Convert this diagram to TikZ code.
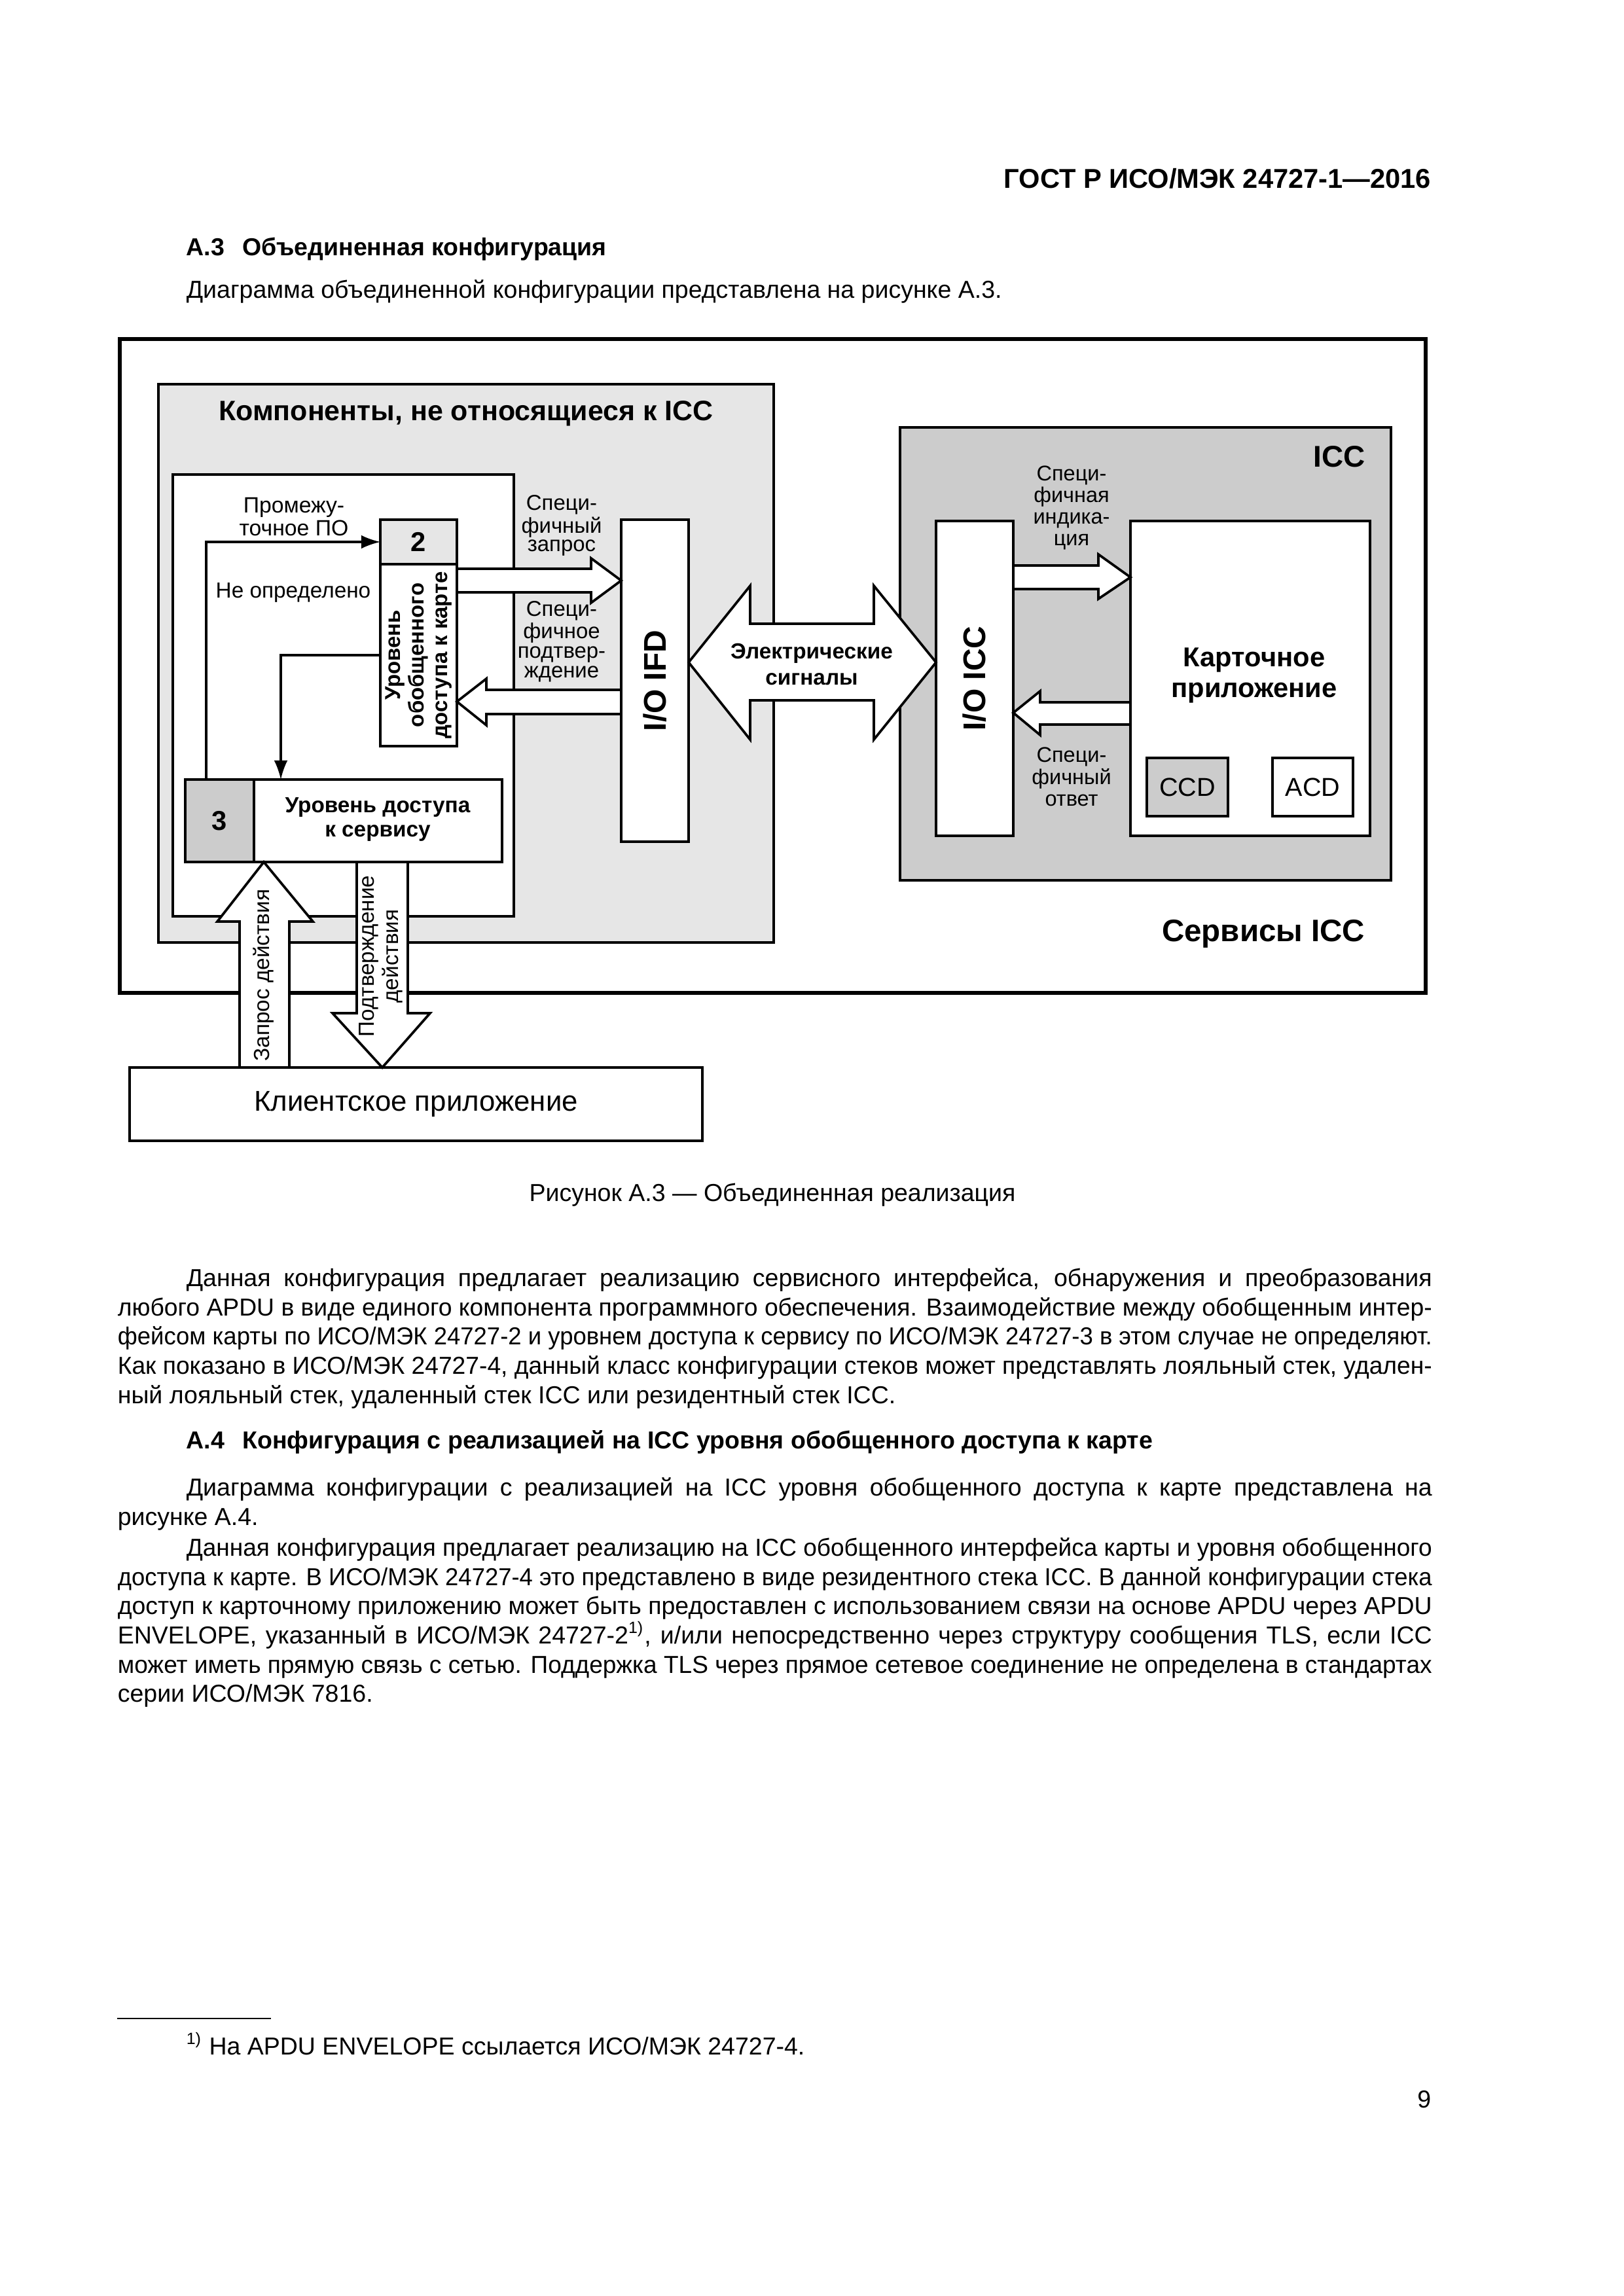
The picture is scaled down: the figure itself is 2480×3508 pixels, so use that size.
\documentclass[tikz,border=0pt]{standalone}
\usepackage{fontspec}
\setmainfont{Liberation Sans}
\usepackage{graphicx}
\usetikzlibrary{arrows.meta,fit}
\definecolor{lgray}{HTML}{E6E6E6}
\definecolor{mgray}{HTML}{CCCCCC}
\newcommand\fsz[2]{\fontsize{#1}{#2}\selectfont}
\newlength\jlw
\newcommand\jline[2]{\settowidth\jlw{#2}\ifdim\jlw>#1\relax\resizebox{#1}{\height}{#2}\else\makebox[#1][s]{#2}\fi}
\begin{document}
\begin{tikzpicture}[x=0.24pt,y=-0.24pt,font=\fsz{9}{10.7},
  box/.style={draw,line width=1.05pt,inner sep=0pt,outer sep=0pt},
  blk/.style={draw,fill=white,line width=0.9pt,line join=miter},
  conn/.style={line width=0.75pt,-{Latex[length=7pt,width=5pt]}},
  lbl/.style={inner sep=0pt,align=center},
  txt/.style={inner sep=0pt,anchor=base west},
  small/.style={lbl,font=\fsz{7.9}{6.6}},
]
\fill[white] (0,0) rectangle (2480,3508);
\useasboundingbox (0,0) rectangle (2480,3508);

% ---------- page text (top) ----------
\node[anchor=base east,inner sep=0pt,font=\fsz{10}{12}\bfseries] (gost) at (2187,288) {ГОСТ Р ИСО/МЭК 24727-1—2016};
\node[txt,font=\fsz{9}{10.7}\bfseries] (h3) at (284,391) {А.3\hspace{0.45em} Объединенная конфигурация};
\node[txt] (t0) at (284,456) {Диаграмма объединенной конфигурации представлена на рисунке А.3.};

% ---------- diagram boxes ----------
\node[box,line width=1.35pt,fit={(183,518)(2178,1517)}] (svc) {};
\node[box,fill=lgray,fit={(242,587)(1182,1440)}] (nonicc) {};
\node[box,fill=white,fit={(264,725)(785,1400)}] (mid) {};
\node[box,fill=lgray,fit={(581,794)(698,862)}] (n2num) {};
\node[box,fill=white,fit={(581,862)(698,1140)}] (n2) {};
\node[box,fill=mgray,fit={(283,1191)(388,1317)}] (n3num) {};
\node[box,fill=white,fit={(388,1191)(767,1317)}] (n3) {};
\node[box,fill=white,fit={(949,794)(1052,1286)}] (ifd) {};
\node[box,fill=mgray,fit={(1375,653)(2125,1345)}] (icc) {};
\node[box,fill=white,fit={(1430,796)(1548,1277)}] (ioicc) {};
\node[box,fill=white,fit={(1727,796)(2093,1277)}] (app) {};
\node[box,fill=mgray,fit={(1752,1158)(1876,1247)}] (ccd) {};
\node[box,fill=white,fit={(1944,1158)(2067,1247)}] (acd) {};
\node[box,fill=white,fit={(198,1631)(1073,1743)}] (client) {};

% ---------- thin connectors ----------
\coordinate (c1) at (315,1191);
\coordinate (c2) at (429,1191);
\draw[conn] (c1) |- (n2num.west);
\draw[conn] (n2.west) -| (c2);

% ---------- block arrows ----------
% specific request (to IFD)
\draw[blk] (n2.east |- 0,869) -- (903,869) -- (903,853) -- (ifd.west |- 0,887) -- (903,921) -- (903,905) -- (n2.east |- 0,905) -- cycle;
% specific confirmation (from IFD)
\draw[blk] (ifd.west |- 0,1054) -- (743,1054) -- (743,1037) -- (n2.east |- 0,1072) -- (743,1108) -- (743,1091) -- (ifd.west |- 0,1091) -- cycle;
% electric signals
\draw[blk] (ifd.east |- 0,1012) -- (1146,895) -- (1146,953) -- (1335,953) -- (1335,895) -- (ioicc.west |- 0,1012) -- (1335,1130) -- (1335,1070) -- (1146,1070) -- (1146,1130) -- cycle;
% specific indication
\draw[blk] (ioicc.east |- 0,864) -- (1678,864) -- (1678,847) -- (app.west |- 0,882) -- (1678,915) -- (1678,900) -- (ioicc.east |- 0,900) -- cycle;
% specific response
\draw[blk] (app.west |- 0,1073) -- (1589,1073) -- (1589,1056) -- (ioicc.east |- 0,1089) -- (1589,1123) -- (1589,1107) -- (app.west |- 0,1107) -- cycle;
% action request (up)
\draw[blk] (366,0 |- client.north) -- (366,1408) -- (332,1408) -- (403,0 |- n3num.south) -- (478,1408) -- (442,1408) -- (442,0 |- client.north) -- cycle;
% action confirmation (down)
\draw[blk] (545,0 |- n3.south) -- (545,1548) -- (508,1548) -- (584,0 |- client.north) -- (657,1548) -- (623,1548) -- (623,0 |- n3.south) -- cycle;

% ---------- diagram labels ----------
\node[lbl,font=\fsz{10.3}{12}\bfseries] (tnon) at (712,632) {Компоненты, не относящиеся к ICC};
\node[lbl,font=\fsz{8.1}{8.4}] (tmw) at (449,790) {Промежу-\\точное ПО};
\node[lbl,font=\fsz{8}{8.4}] (tund) at (448,905) {Не определено};
\node[lbl,font=\fsz{10}{12}\bfseries] at (n2num.center) {2};
\node[lbl,rotate=90,font=\fsz{7.9}{8.6}\bfseries] at (n2.center) {Уровень\\обобщенного\\доступа к карте};
\node[lbl,font=\fsz{10}{12}\bfseries] at (n3num.center) {3};
\node[lbl,font=\fsz{8}{8.9}\bfseries] at (577,1252) {Уровень доступа\\к сервису};
\node[small] (treq) at (858,803) {Специ-\\фичный\\запрос};
\node[lbl,font=\fsz{7.9}{7.1}] (tconf) at (858,980) {Специ-\\фичное\\подтвер-\\ждение};
\node[lbl,rotate=90,font=\fsz{11.5}{13}\bfseries] at (ifd.center) {I/O IFD};
\node[lbl,font=\fsz{8}{9.6}\bfseries] (tel) at (1240,1015) {Электрические\\сигналы};
\node[lbl,anchor=east,font=\fsz{11}{13}\bfseries] (ticc) at (2086,698) {ICC};
\node[lbl,font=\fsz{7.8}{7.9}] (tind) at (1637,776) {Специ-\\фичная\\индика-\\ция};
\node[lbl,font=\fsz{7.8}{8.1}] (tans) at (1637,1187) {Специ-\\фичный\\ответ};
\node[lbl,rotate=90,font=\fsz{11.5}{13}\bfseries] at (ioicc.center) {I/O ICC};
\node[lbl,font=\fsz{10}{11.3}\bfseries] at (1916,1032) {Карточное\\приложение};
\node[lbl,font=\fsz{9.5}{11}] at (ccd.center) {CCD};
\node[lbl,font=\fsz{9.5}{11}] at (acd.center) {ACD};
\node[lbl,anchor=east,font=\fsz{11.4}{13}\bfseries] (tsvc) at (2086,1427) {Сервисы ICC};
\node[lbl,rotate=90,font=\fsz{8}{9}] at (403,1490) {Запрос действия};
\node[lbl,rotate=90,font=\fsz{8}{9}] at (582,1461) {Подтверждение\\действия};
\node[lbl,font=\fsz{10.5}{12}] at (client.center) {Клиентское приложение};

% ---------- caption and body ----------
\node[anchor=base,inner sep=0pt] (cap) at (1180,1835) {Рисунок А.3 — Объединенная реализация};

\node[txt] (p1a) at (284,1965) {\jline{456.7pt}{Данная конфигурация предлагает реализацию сервисного интерфейса, обнаружения и преобразования}};
\node[txt] (p1b) at (179,2010) {\jline{481.9pt}{любого APDU в виде единого компонента программного обеспечения. Взаимодействие между обобщенным интер-}};
\node[txt] (p1c) at (179,2054) {\jline{481.9pt}{фейсом карты по ИСО/МЭК 24727-2 и уровнем доступа к сервису по ИСО/МЭК 24727-3 в этом случае не определяют.}};
\node[txt] (p1d) at (179,2099) {\jline{481.9pt}{Как показано в ИСО/МЭК 24727-4, данный класс конфигурации стеков может представлять лояльный стек, удален-}};
\node[txt] (p1e) at (179,2144) {ный лояльный стек, удаленный стек ICC или резидентный стек ICC.};

\node[txt,font=\fsz{9}{10.7}\bfseries] (h4) at (284,2213) {А.4\hspace{0.45em} Конфигурация с реализацией на ICC уровня обобщенного доступа к карте};

\node[txt] (p2a) at (284,2285) {\jline{456.7pt}{Диаграмма конфигурации с реализацией на ICC уровня обобщенного доступа к карте представлена на}};
\node[txt] (p2b) at (179,2330) {рисунке А.4.};

\node[txt] (p3a) at (284,2377) {\jline{456.7pt}{Данная конфигурация предлагает реализацию на ICC обобщенного интерфейса карты и уровня обобщенного}};
\node[txt] (p3b) at (179,2422) {\jline{481.9pt}{доступа к карте. В ИСО/МЭК 24727-4 это представлено в виде резидентного стека ICC. В данной конфигурации стека}};
\node[txt] (p3c) at (179,2466) {\jline{481.9pt}{доступ к карточному приложению может быть предоставлен с использованием связи на основе APDU через APDU}};
\node[txt] (p3d) at (179,2511) {\jline{481.9pt}{ENVELOPE, указанный в ИСО/МЭК 24727-2\textsuperscript{1)}, и/или непосредственно через структуру сообщения TLS, если ICC}};
\node[txt] (p3e) at (179,2556) {\jline{481.9pt}{может иметь прямую связь с сетью. Поддержка TLS через прямое сетевое соединение не определена в стандартах}};
\node[txt] (p3f) at (179,2600) {серии ИСО/МЭК 7816.};

% ---------- footnote and page number ----------
\coordinate (fr1) at (179,3084);
\coordinate (fr2) at (414,3084);
\draw[line width=0.5pt] (fr1) -- (fr2);
\node[txt] (fn) at (284,3139) {\textsuperscript{1)} На APDU ENVELOPE ссылается ИСО/МЭК 24727-4.};
\node[anchor=base east,inner sep=0pt] (pg) at (2187,3220) {9};
\end{tikzpicture}
\end{document}
